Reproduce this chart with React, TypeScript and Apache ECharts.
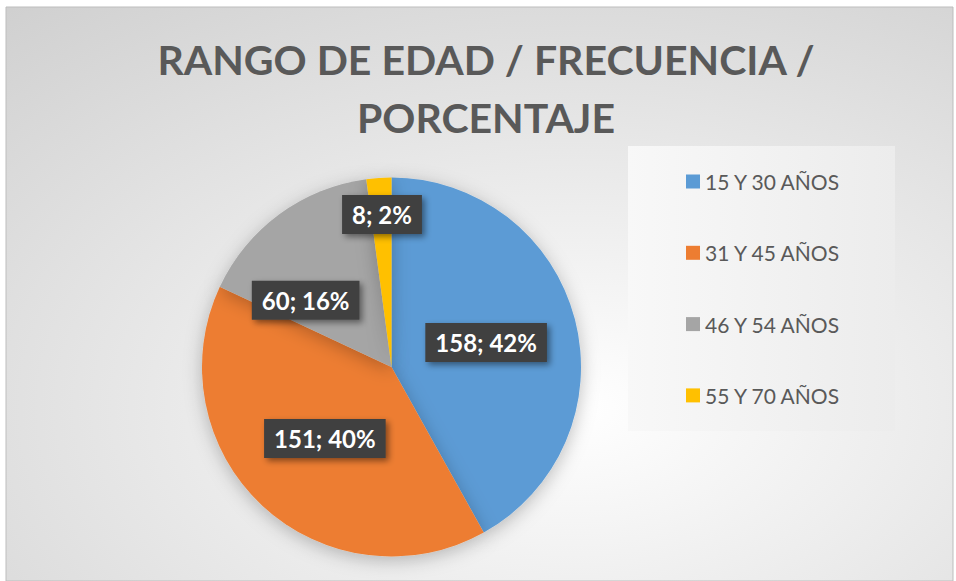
import React, { useEffect, useRef } from "react";
import * as echarts from "echarts";

const categories = ["15 Y 30 AÑOS", "31 Y 45 AÑOS", "46 Y 54 AÑOS", "55 Y 70 AÑOS"];
const frequencies = [158, 151, 60, 8];
const colors = ["#5B9BD5", "#ED7D31", "#A5A5A5", "#FFC000"];
const titleText = "RANGO DE EDAD / FRECUENCIA /\nPORCENTAJE";
// label nudges (Excel best-fit placement)
const labelNudges = [
  [0, 0],
  [0, 0],
  [-28, 12],
  [-3, -55],
];

export default function App() {
  const ref = useRef<HTMLDivElement>(null);
  useEffect(() => {
    if (!ref.current) return;
    const chart = echarts.init(ref.current, null, { renderer: "svg" });
    chart.setOption({
      animation: false,
      backgroundColor: "#ffffff",
      graphic: [
        {
          type: "rect",
          z: -10,
          shape: { x: 6, y: 7, width: 947, height: 574 },
          style: {
            fill: new echarts.graphic.RadialGradient(0.6, 0.7, 1.15, [
              { offset: 0, color: "#ffffff" },
              { offset: 1, color: "#c4c4c4" },
            ]),
            stroke: "#bdbdbd",
            lineWidth: 1,
          },
        },
        {
          type: "rect",
          z: -9,
          shape: { x: 628, y: 146, width: 267, height: 285 },
          style: {
            fill: new echarts.graphic.LinearGradient(0, 0, 1, 0, [
              { offset: 0, color: "#f8f8f8" },
              { offset: 1, color: "#ececec" },
            ]),
          },
        },
        {
          type: "text",
          z: -8,
          x: 486,
          y: 30,
          style: {
            text: titleText,
            align: "center",
            verticalAlign: "top",
            fontSize: 41,
            fontWeight: "bold",
            fontFamily: "Lato",
            fill: "#595959",
            lineHeight: 58,
          },
        },
      ],
      color: colors,
      legend: {
        orient: "vertical",
        left: 686,
        top: 171,
        padding: 0,
        itemWidth: 14,
        itemHeight: 14,
        itemGap: 50.3,
        icon: "rect",
        data: categories,
        textStyle: {
          fontFamily: "Lato",
          fontSize: 21,
          color: "#595959",
          lineHeight: 20,
        },
      },
      series: [
        {
          type: "pie",
          center: [391.5, 367],
          radius: 189.5,
          startAngle: 90,
          clockwise: true,
          percentPrecision: 0,
          avoidLabelOverlap: false,
          itemStyle: {
            shadowBlur: 18,
            shadowColor: "rgba(0,0,0,0.25)",
            shadowOffsetY: 4,
          },
          emphasis: { disabled: true },
          label: {
            show: true,
            position: "inside",
            formatter: "{c}; {d}%",
            color: "#ffffff",
            fontFamily: "Lato",
            fontWeight: "bold",
            fontSize: 24,
            backgroundColor: "#404040",
            padding: [8, 10, 7, 10],
            shadowColor: "rgba(0,0,0,0.45)",
            shadowBlur: 6,
            shadowOffsetX: 3,
            shadowOffsetY: 3,
          },
          labelLine: { show: false },
          labelLayout: (params: any) => {
            const n = labelNudges[params.dataIndex] || [0, 0];
            return { dx: n[0], dy: n[1] };
          },
          data: categories.map((name, i) => ({ name, value: frequencies[i] })),
        },
      ],
    });
    return () => chart.dispose();
  }, []);
  return (
    <div
      ref={ref}
      style={{ position: "absolute", left: 0, top: 0, width: 956, height: 581 }}
    />
  );
}
